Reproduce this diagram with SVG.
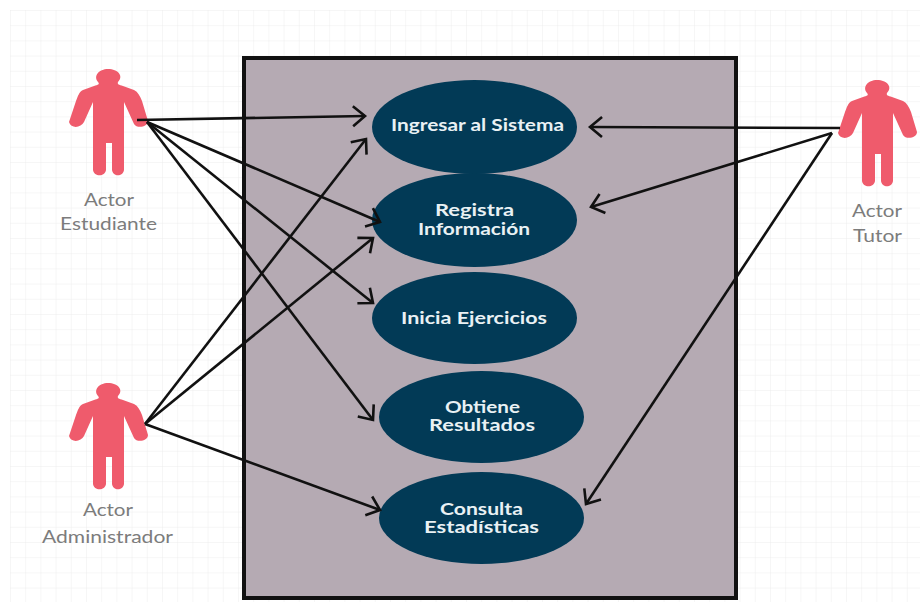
<svg xmlns="http://www.w3.org/2000/svg" width="920" height="602" viewBox="0 0 920 602">
<defs>
<pattern id="grid" x="10" y="10" width="15.2" height="15.2" patternUnits="userSpaceOnUse"><path d="M0 0H15.2M0 0V15.2" fill="none" stroke="#ededed" stroke-width="1"/></pattern>
<path id="actor" fill="#ef5b6c" d="M98 82C93 76 99 69 108 69C118 69 124 76 118 82C117 84 119 85 123 86L134 90C138 92 140 96 142 101L148 121C148 127 137 129 134 124L124 102V170C123 177 113 177 112 170V143H106V170C105 177 94 177 93 170V102L84 122C81 128 71 129 69 122L76 101C78 96 79 92 83 90L94 86C98 85 100 84 98 82Z"/>
<marker id="arrow" markerUnits="userSpaceOnUse" markerWidth="26" markerHeight="26" refX="22" refY="13" orient="auto"><path d="M10 3L22 13L10 23" fill="none" stroke="#111" stroke-width="2.6"/></marker>
</defs>
<style>
.c{fill:none;stroke:#111;stroke-width:2.6;marker-end:url(#arrow)}
.u{fill:#023a56}
.t{font-family:Lato,"Liberation Sans",sans-serif;font-size:17px;font-weight:700;fill:#e9f1f4;text-anchor:middle}
.a{font-family:Lato,"Liberation Sans",sans-serif;font-size:18px;fill:#7c7c7c;text-anchor:middle}
</style>
<rect width="920" height="602" fill="#fff"/>
<rect x="10" y="10" width="910" height="592" fill="url(#grid)"/>
<rect x="244" y="58" width="492" height="540" fill="#b5aab3" stroke="#111" stroke-width="4"/>
<g id="uc1"><ellipse class="u" cx="474.5" cy="127" rx="102.5" ry="47"/><text class="t" x="477.5" y="131" textLength="173" lengthAdjust="spacingAndGlyphs">Ingresar al Sistema</text></g>
<g id="uc2"><ellipse class="u" cx="474.5" cy="220" rx="102.5" ry="47"/><text class="t" x="474.5" y="216" textLength="79" lengthAdjust="spacingAndGlyphs">Registra</text><text class="t" x="474" y="235" textLength="112" lengthAdjust="spacingAndGlyphs">Información</text></g>
<g id="uc3"><ellipse class="u" cx="474.5" cy="318" rx="102.5" ry="46"/><text class="t" x="474" y="324" textLength="146" lengthAdjust="spacingAndGlyphs">Inicia Ejercicios</text></g>
<g id="uc4"><ellipse class="u" cx="481.5" cy="417" rx="102.5" ry="46"/><text class="t" x="482.5" y="413" textLength="75" lengthAdjust="spacingAndGlyphs">Obtiene</text><text class="t" x="482" y="431" textLength="106" lengthAdjust="spacingAndGlyphs">Resultados</text></g>
<g id="uc5"><ellipse class="u" cx="481.5" cy="518" rx="102.5" ry="46"/><text class="t" x="481.5" y="515" textLength="83" lengthAdjust="spacingAndGlyphs">Consulta</text><text class="t" x="481.5" y="533" textLength="115" lengthAdjust="spacingAndGlyphs">Estadísticas</text></g>
<g id="actor1"><use href="#actor"/><text class="a" x="109" y="206" textLength="50" lengthAdjust="spacingAndGlyphs">Actor</text><text class="a" x="108.5" y="230" textLength="97" lengthAdjust="spacingAndGlyphs">Estudiante</text></g>
<g id="actor2"><use href="#actor" y="314"/><text class="a" x="108" y="516" textLength="50" lengthAdjust="spacingAndGlyphs">Actor</text><text class="a" x="107.5" y="543" textLength="131" lengthAdjust="spacingAndGlyphs">Administrador</text></g>
<g id="actor3"><use href="#actor" x="769" y="11"/><text class="a" x="877" y="217" textLength="50" lengthAdjust="spacingAndGlyphs">Actor</text><text class="a" x="877.5" y="242" textLength="49" lengthAdjust="spacingAndGlyphs">Tutor</text></g>
<g id="connectors">
<path class="c" d="M137 120L365 116"/>
<path class="c" d="M147 122L380 222"/>
<path class="c" d="M147 122L373 303"/>
<path class="c" d="M147 122L373 420"/>
<path class="c" d="M145 424L366 139"/>
<path class="c" d="M145 424L373 238"/>
<path class="c" d="M145 424L380 510"/>
<path class="c" d="M840 128L590 127"/>
<path class="c" d="M832 133L591 207"/>
<path class="c" d="M832 133L586 504"/>
</g>
</svg>
